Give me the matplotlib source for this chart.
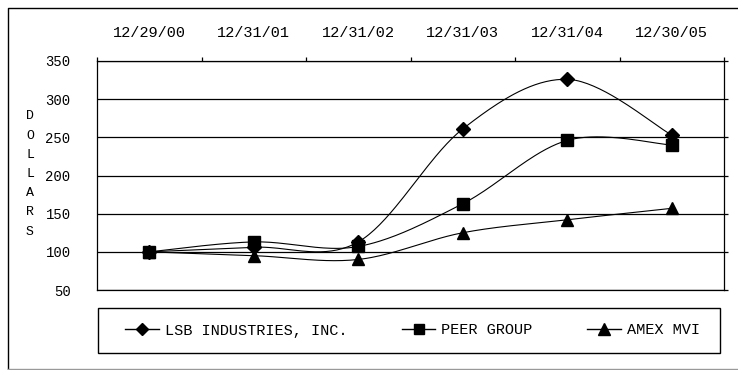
import numpy as np
import matplotlib
matplotlib.use("Agg")
import matplotlib.pyplot as plt
from matplotlib.patches import Rectangle
from matplotlib.lines import Line2D

dates = ["12/29/00", "12/31/01", "12/31/02", "12/31/03", "12/31/04", "12/30/05"]
lsb = [100, 106, 113, 261, 326, 253]
peer = [100, 113, 107, 163, 246, 240]
amex = [100, 95, 90, 125, 142, 157]
series_names = ["LSB INDUSTRIES, INC.", "PEER GROUP", "AMEX MVI"]
y_ticks = [50, 100, 150, 200, 250, 300, 350]

plt.rcParams['font.family'] = ['Liberation Mono', 'DejaVu Sans']

W, H = 738, 370
fig = plt.figure(figsize=(W / 100, H / 100), dpi=100)

def fx(px):
    return px / W

def fy(py):
    return 1 - py / H

ax = fig.add_axes([fx(97), fy(290), fx(724) - fx(97), fy(61) - fy(290)])


def smooth(x, y, n=40):
    # Excel-like smoothed line: cubic Bezier with tangents (P[i+1]-P[i-1])/6
    x = np.asarray(x, float)
    y = np.asarray(y, float)
    px = np.concatenate([[x[0]], x, [x[-1]]])
    py = np.concatenate([[y[0]], y, [y[-1]]])
    out_x, out_y = [], []
    t = np.linspace(0, 1, n)
    for i in range(len(x) - 1):
        p0 = np.array([px[i + 1], py[i + 1]])
        p3 = np.array([px[i + 2], py[i + 2]])
        c1 = p0 + (np.array([px[i + 2], py[i + 2]]) - np.array([px[i], py[i]])) / 6
        c2 = p3 - (np.array([px[i + 3], py[i + 3]]) - np.array([px[i + 1], py[i + 1]])) / 6
        b = ((1 - t) ** 3)[:, None] * p0 + (3 * (1 - t) ** 2 * t)[:, None] * c1 \
            + (3 * (1 - t) * t ** 2)[:, None] * c2 + (t ** 3)[:, None] * p3
        out_x.extend(b[:, 0])
        out_y.extend(b[:, 1])
    return np.array(out_x), np.array(out_y)


xi = np.arange(len(dates))
markers = ['D', 's', '^']
msizes = [7, 8, 9]
handles = []
for vals, m, ms, name in zip([lsb, peer, amex], markers, msizes, series_names):
    sx, sy = smooth(xi, vals)
    ax.plot(sx, sy, color='black', lw=0.8, zorder=3)
    ax.plot(xi, vals, linestyle='none', marker=m, markersize=ms, color='black', zorder=4)
    h, = ax.plot([], [], color='black', lw=1.0, marker=m, markersize=ms - 1)
    handles.append(h)

ax.set_xlim(-0.5, len(dates) - 0.5)
ax.set_ylim(50, 350)
ax.set_yticks(y_ticks)
ax.yaxis.grid(True, color='black', lw=0.9)
ax.set_axisbelow(True)
ax.tick_params(axis='y', left=False, right=True, length=3, width=0.9,
               direction='out', pad=16, labelsize=10)
ax.tick_params(axis='y', which='both', labelleft=True, labelright=False)
for s in ax.spines.values():
    s.set_color('black')
    s.set_linewidth(0.9)

ax.xaxis.tick_top()
ax.set_xticks(np.arange(len(dates) + 1) - 0.5)
ax.set_xticklabels([])
ax.set_xticks(xi, minor=True)
ax.set_xticklabels(dates, minor=True)
ax.tick_params(axis='x', which='major', length=3, width=0.9, direction='out', top=True, bottom=False)
ax.tick_params(axis='x', which='minor', length=0, pad=15, labelsize=11, top=True, bottom=False)

fig.text(fx(30), fy(174), "D\nO\nL\nL\nA\nR\nS", ha='center', va='center',
         fontsize=9.5, linespacing=1.8)

# legend frame and entries
fig.patches.append(Rectangle((fx(98), fy(353)), fx(720) - fx(98), fy(308) - fy(353),
                             transform=fig.transFigure, fill=False, edgecolor='black', lw=1.0))
fig.legend(handles, series_names, loc='center', ncol=3, mode='expand', frameon=False,
           bbox_to_anchor=(fx(125), fy(340), fx(700) - fx(125), fy(321) - fy(340)),
           borderpad=0, borderaxespad=0, fontsize=11, handlelength=2.2, handletextpad=0.4)

# outer frame (top, left, bottom; no right edge visible)
fig.add_artist(Line2D([fx(7.5), fx(7.5), 1.0], [fy(369), fy(8), fy(8)],
                      transform=fig.transFigure, color='black', lw=1.0))
fig.add_artist(Line2D([fx(7.5), 1.0], [fy(369), fy(369)],
                      transform=fig.transFigure, color='#999999', lw=1.0))

fig.savefig("out.png", dpi=100)
